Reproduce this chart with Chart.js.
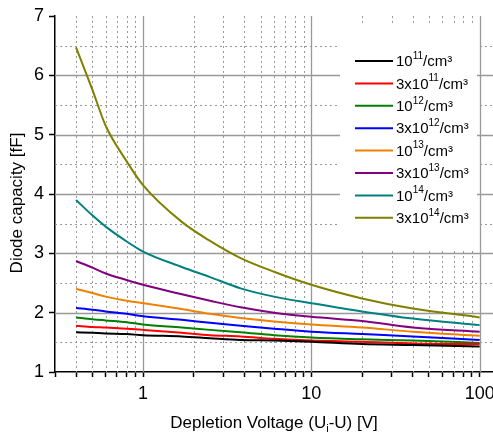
<!DOCTYPE html>
<html>
<head>
<meta charset="utf-8">
<script src="https://cdn.jsdelivr.net/npm/chart.js@4.4.0/dist/chart.umd.min.js"></script>
<style>
  html, body { margin: 0; padding: 0; background: #fff; }
  #wrap { width: 493px; height: 438px; }
</style>
</head>
<body>
<div id="wrap"><canvas id="capChart"></canvas></div>
<script>
// depletion voltage (U_i - U) [V]
const voltages = [0.4, 0.5, 0.6, 0.8, 1, 1.7, 2.5, 3.8, 6, 10, 20, 40, 100];

// diode capacity [fF], one array per doping
const cap1e11 = [1.67, 1.66, 1.65, 1.64, 1.62, 1.60, 1.57, 1.54, 1.53, 1.51, 1.47, 1.455, 1.43];
const cap3e11 = [1.78, 1.76, 1.75, 1.73, 1.71, 1.66, 1.62, 1.60, 1.56, 1.53, 1.51, 1.48, 1.47];
const cap1e12 = [1.92, 1.89, 1.87, 1.84, 1.80, 1.75, 1.71, 1.67, 1.62, 1.58, 1.55, 1.53, 1.49];
const cap3e12 = [2.08, 2.05, 2.02, 1.98, 1.94, 1.88, 1.83, 1.78, 1.73, 1.68, 1.64, 1.60, 1.54];
const cap1e13 = [2.40, 2.33, 2.27, 2.20, 2.16, 2.06, 1.98, 1.91, 1.85, 1.80, 1.75, 1.68, 1.61];
const cap3e13 = [2.87, 2.76, 2.66, 2.55, 2.47, 2.31, 2.20, 2.09, 2.00, 1.93, 1.86, 1.75, 1.68];
const cap1e14 = [3.90, 3.64, 3.45, 3.20, 3.03, 2.77, 2.60, 2.41, 2.27, 2.16, 2.02, 1.90, 1.79];
const cap3e14 = [6.47, 5.76, 5.15, 4.55, 4.15, 3.53, 3.21, 2.92, 2.69, 2.47, 2.24, 2.07, 1.92];

const seriesData = [cap1e11, cap3e11, cap1e12, cap3e12, cap1e13, cap3e13, cap1e14, cap3e14];
const seriesPrefix = ['10', '3x10', '10', '3x10', '10', '3x10', '10', '3x10'];
const seriesExp = ['11', '11', '12', '12', '13', '13', '14', '14'];
const seriesColors = ['#000000', '#ff0000', '#008000', '#0000ff', '#f08000', '#800080', '#008080', '#808000'];

// axis ticks
const yTicks = [1, 2, 3, 4, 5, 6, 7];
const yMinorGrid = [1.5, 2.5, 3.5, 4.5, 5.5, 6.5];
const xMajorTicks = [1, 10, 100];
const xMinorTicks = [0.3, 0.4, 0.5, 0.6, 0.7, 0.8, 0.9, 2, 3, 4, 5, 6, 7, 8, 9, 20, 30, 40, 50, 60, 70, 80, 90];

const FONT = "'Liberation Sans', Arial, sans-serif";

function seg(ctx, x1, y1, x2, y2) {
    ctx.beginPath();
    ctx.moveTo(x1, y1);
    ctx.lineTo(x2, y2);
    ctx.stroke();
}

// grid lines + legend box (drawn under the curves)
const gridAndLegend = {
    id: 'gridAndLegend',
    beforeDatasetsDraw(chart) {
        const { ctx, chartArea: a, scales: { x, y } } = chart;
        ctx.save();

        // dotted minor grid
        ctx.lineWidth = 1;
        ctx.strokeStyle = '#999999';
        ctx.setLineDash([2, 3]);
        xMinorTicks.slice(1).forEach(v => {
            const px = Math.round(x.getPixelForValue(v)) + 0.5;
            seg(ctx, px, a.top, px, a.bottom);
        });
        yMinorGrid.forEach(v => {
            const py = Math.round(y.getPixelForValue(v)) + 0.5;
            seg(ctx, a.left, py, a.right, py);
        });

        // solid major grid
        ctx.setLineDash([]);
        ctx.strokeStyle = '#999999';
        ctx.lineWidth = 1.3;
        xMajorTicks.forEach(v => {
            const px = Math.round(x.getPixelForValue(v)) + 0.5;
            seg(ctx, px, a.top, px, a.bottom);
        });
        yTicks.slice(1, -1).forEach(v => {
            const py = Math.round(y.getPixelForValue(v)) + 0.5;
            seg(ctx, a.left, py, a.right, py);
        });

        // legend
        ctx.fillStyle = '#ffffff';
        ctx.fillRect(340, 23, 137, 226);
        ctx.textBaseline = 'middle';
        ctx.textAlign = 'left';
        seriesData.forEach((d, i) => {
            const cy = 61 + i * 22.4;
            ctx.strokeStyle = seriesColors[i];
            ctx.lineWidth = 2;
            seg(ctx, 355, cy, 393, cy);
            ctx.fillStyle = '#000';
            let tx = 396;
            ctx.font = '15px ' + FONT;
            ctx.fillText(seriesPrefix[i], tx, cy + 1);
            tx += ctx.measureText(seriesPrefix[i]).width;
            ctx.font = '10px ' + FONT;
            ctx.fillText(seriesExp[i], tx, cy - 5);
            tx += ctx.measureText(seriesExp[i]).width;
            ctx.font = '15px ' + FONT;
            ctx.fillText('/cm³', tx, cy + 1);
        });
        ctx.restore();
    },
    afterDraw(chart) {
        const { ctx, chartArea: a } = chart;
        ctx.save();
        ctx.fillStyle = '#000';
        ctx.textBaseline = 'middle';

        // x title with subscript i
        const parts = ['Depletion Voltage (U', 'i', '-U) [V]'];
        ctx.font = '17px ' + FONT;
        const w0 = ctx.measureText(parts[0]).width;
        const w2 = ctx.measureText(parts[2]).width;
        ctx.font = '11px ' + FONT;
        const w1 = ctx.measureText(parts[1]).width;
        let tx = (a.left + a.right) / 2 - (w0 + w1 + w2) / 2;
        const ty = 423;
        ctx.textAlign = 'left';
        ctx.font = '17px ' + FONT;
        ctx.fillText(parts[0], tx, ty);
        ctx.font = '11px ' + FONT;
        ctx.fillText(parts[1], tx + w0, ty + 6);
        ctx.font = '17px ' + FONT;
        ctx.fillText(parts[2], tx + w0 + w1, ty);

        // y title
        ctx.translate(17, 203);
        ctx.rotate(-Math.PI / 2);
        ctx.textAlign = 'center';
        ctx.fillText('Diode capacity [fF]', 0, 0);
        ctx.restore();
    }
};

const ctx = document.getElementById('capChart').getContext('2d');
const capChart = new Chart(ctx, {
    type: 'line',
    data: {
        datasets: seriesData.map((d, i) => ({
            label: seriesPrefix[i] + '^' + seriesExp[i] + '/cm³',
            data: voltages.map((v, k) => ({ x: v, y: d[k] })),
            borderColor: seriesColors[i],
            borderWidth: 2,
            pointRadius: 0,
            cubicInterpolationMode: 'monotone',
            fill: false
        }))
    },
    options: {
        responsive: true,
        maintainAspectRatio: false,
        animation: false,
        layout: { padding: { top: 16, left: 0, right: 0, bottom: 0 } },
        plugins: {
            legend: { display: false },
            tooltip: { enabled: false }
        },
        scales: {
            x: {
                type: 'logarithmic',
                min: 0.3,
                max: 120,
                afterBuildTicks: s => {
                    s.ticks = xMinorTicks.concat(xMajorTicks).sort((p, q) => p - q)
                        .map(v => ({ value: v, major: xMajorTicks.includes(v) }));
                },
                ticks: {
                    autoSkip: false,
                    maxRotation: 0,
                    color: '#000',
                    padding: 6,
                    font: { family: FONT, size: 18 },
                    callback: v => xMajorTicks.includes(v) ? String(v) : ''
                },
                grid: { drawOnChartArea: false, drawTicks: true, tickLength: 5, tickColor: '#000', tickWidth: 1.5 },
                border: { color: '#000', width: 1.5 },
                afterFit: s => { s.height = 66; s.paddingLeft = 0; s.paddingRight = 0; }
            },
            y: {
                min: 1,
                max: 7,
                ticks: {
                    stepSize: 1,
                    color: '#000',
                    padding: 5,
                    font: { family: FONT, size: 18 }
                },
                grid: { drawOnChartArea: false, drawTicks: true, tickLength: 6, tickColor: '#000', tickWidth: 1.5 },
                border: { color: '#000', width: 1.5 },
                afterFit: s => { s.width = 55; s.paddingTop = 0; s.paddingBottom = 0; }
            }
        }
    },
    plugins: [gridAndLegend]
});
</script>
</body>
</html>
